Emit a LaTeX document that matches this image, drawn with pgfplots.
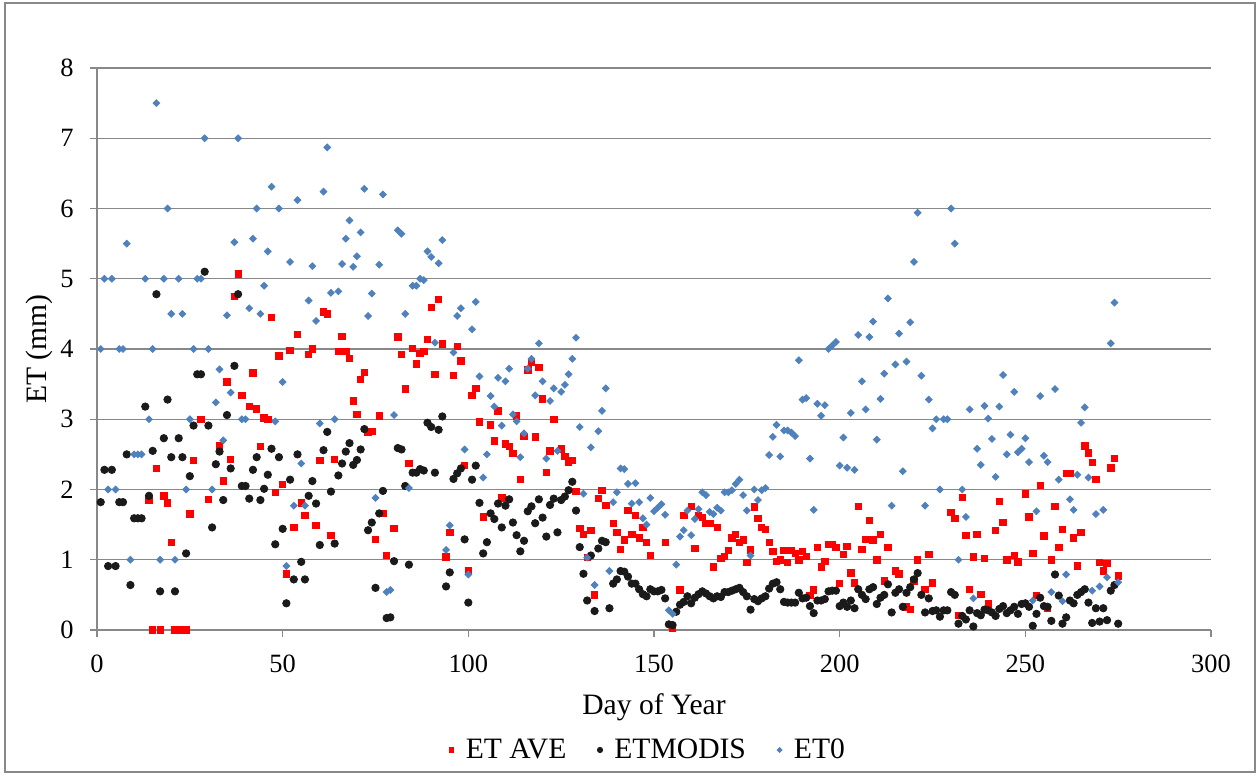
\documentclass[border=0pt]{standalone}
\usepackage{pgfplots}
\pgfplotsset{compat=1.18}
\usepackage{fontspec}
\setmainfont{Liberation Serif}
\definecolor{etblue}{HTML}{4F81BD}
\definecolor{etred}{HTML}{FF0000}
\definecolor{etblack}{HTML}{1A1A1A}
\definecolor{gridgray}{HTML}{888888}
\begin{document}
\begin{tikzpicture}
\useasboundingbox (-48.5pt,-72.5pt) rectangle (580.5pt,315pt);
\draw[gridgray, line width=0.7pt] (-46pt,-71pt) rectangle (579pt,313.5pt);
\begin{axis}[
  at={(0pt,0pt)}, anchor=south west,
  scale only axis, width=557pt, height=281pt,
  xmin=0, xmax=300, ymin=0, ymax=8,
  xtick={0,50,...,300}, ytick={0,1,...,8},
  axis x line=bottom, axis y line=left,
  axis line style={-, gridgray, line width=0.6pt},
  tick align=outside, major tick length=3.5pt,
  tick style={gridgray, line width=0.6pt},
  ymajorgrids, grid style={gridgray, line width=0.6pt},
  /pgf/number format/assume math mode=true,
  ticklabel style={font=\fontsize{13.2}{15}\selectfont},
  yticklabel style={anchor=east, inner sep=0pt, xshift=-8pt},
  xticklabel style={anchor=north, inner sep=0pt, yshift=-9pt},
  xlabel={Day of Year}, ylabel={ET (mm)},
  label style={font=\fontsize{14.8}{17}\selectfont},
  xlabel style={at={(axis description cs:0.5,-0.137)}, anchor=center},
  ylabel style={at={(axis description cs:-0.052,0.5)}, anchor=center, rotate=0},
  legend columns=3,
  legend style={draw=none, at={(axis description cs:0.4946,-0.2135)}, anchor=center,
    font=\fontsize{14.8}{17}\selectfont, column sep=2pt,
    /tikz/every even column/.append style={column sep=12.6pt}},
  legend image code/.code={\draw[#1, /tikz/every mark/.append style={scale=0.72}] plot coordinates {(0pt,0pt)}; \path (-2pt,0pt) (3pt,0pt);},
  clip=false,
]
\addplot[only marks, mark=square*, mark size=1.6pt, color=etred, mark options={draw=etred, fill=etred}] table {
14 1.85
15 0
16 2.3
17 0
18 1.91
19 1.81
20 1.25
21 0
22 0
23 0
24 0
25 1.65
26 2.41
28 3.0
30 1.86
33 2.62
34 2.12
35 3.53
36 2.43
37 4.75
38 5.07
39 3.34
41 3.18
42 3.66
43 3.15
44 2.61
45 3.02
46 3.0
47 4.45
48 1.96
49 3.9
50 2.07
51 0.8
52 3.98
53 1.46
54 4.21
55 1.81
56 1.63
57 3.92
58 4.0
59 1.49
60 2.41
61 4.53
62 4.5
63 1.35
64 2.43
65 3.97
66 4.18
67 3.97
68 3.87
69 3.26
70 3.07
71 3.57
72 3.67
73 2.81
74 2.83
75 1.29
76 3.05
77 1.66
78 1.06
80 1.45
81 4.17
82 3.92
83 3.43
84 2.37
85 4.01
86 3.79
87 3.94
88 3.97
89 4.14
90 4.59
91 3.64
92 4.71
93 4.07
94 1.04
95 1.39
96 3.62
97 4.04
98 3.83
99 2.34
100 0.85
101 3.34
102 3.44
103 2.96
104 1.61
106 2.92
107 2.69
108 3.12
109 1.88
110 2.65
111 2.61
112 2.51
113 3.05
114 2.14
115 2.76
116 3.7
117 3.81
118 2.75
119 3.74
120 3.29
121 2.24
122 2.55
123 3.0
125 2.58
126 2.47
127 2.39
128 2.41
129 1.97
130 1.45
131 1.36
132 1.03
133 1.42
134 0.5
135 1.87
136 1.99
137 1.77
139 1.52
140 1.39
141 1.15
142 1.28
143 1.7
144 1.36
145 1.63
146 1.31
147 1.46
148 1.25
149 1.06
153 1.25
155 0.02
157 0.57
158 1.63
160 1.76
161 1.16
162 1.63
163 1.6
164 1.52
165 1.52
166 0.9
167 1.46
168 1.02
169 1.05
170 1.13
171 1.31
172 1.36
173 1.25
174 1.28
175 0.96
176 1.14
177 1.75
178 1.59
179 1.46
180 1.43
181 1.25
182 1.12
183 0.98
184 1.0
185 1.13
186 0.96
187 1.13
188 1.09
189 1.0
190 1.12
191 1.05
192 0.49
193 0.57
194 1.18
195 0.9
196 0.98
197 1.22
198 1.22
199 1.18
200 0.66
201 1.08
202 1.19
203 0.81
204 0.67
205 1.76
206 1.15
207 1.29
208 1.56
209 1.28
210 1.0
211 1.36
212 0.7
213 1.18
215 0.84
216 0.8
218 0.33
219 0.29
220 0.7
221 1.0
223 0.58
224 1.08
225 0.67
230 1.67
231 1.59
232 0.21
233 1.89
234 1.35
235 0.58
236 1.04
237 1.36
238 0.51
239 1.02
240 0.37
242 1.42
243 1.83
244 1.53
245 1.0
247 1.06
248 0.97
250 1.94
251 1.61
252 1.09
253 0.49
254 2.06
255 1.34
256 0.31
257 1.0
258 1.76
259 1.18
260 1.43
261 2.23
262 2.23
263 1.31
264 0.91
265 1.39
266 2.62
267 2.52
268 2.39
269 2.14
270 0.96
271 0.84
272 0.95
273 2.31
274 2.44
275 0.77
};
\addlegendentry{ET AVE}
\addplot[only marks, mark=*, mark size=1.85pt, color=etblack, mark options={draw=etblack, fill=etblack}] table {
1 1.82
2 2.28
3 0.91
4 2.28
5 0.91
6 1.82
7 1.82
8 2.5
9 0.64
10 1.59
11 1.59
12 1.59
13 3.18
14 1.91
15 2.55
16 4.78
17 0.55
18 2.73
19 3.28
20 2.46
21 0.55
22 2.73
23 2.46
24 1.09
25 2.19
26 2.91
27 3.64
28 3.64
29 5.1
30 2.91
31 1.46
32 2.36
33 2.54
34 1.85
35 3.06
36 2.3
37 3.76
38 4.78
39 2.05
40 2.05
41 1.87
42 2.28
43 2.46
44 1.85
45 2.01
46 2.21
47 2.58
48 1.22
49 2.46
50 1.44
51 0.38
52 2.14
53 0.72
54 2.5
55 0.97
56 0.72
57 1.91
58 2.12
59 1.8
60 1.21
61 2.56
62 2.82
63 1.97
64 1.23
65 2.2
66 2.37
67 2.54
68 2.66
69 2.35
70 2.42
71 2.57
72 2.86
73 1.42
74 1.53
75 0.6
76 1.66
77 1.98
78 0.17
79 0.18
80 0.98
81 2.59
82 2.57
83 2.05
84 0.93
85 2.24
86 2.24
87 2.29
88 2.27
89 2.95
90 2.89
91 2.24
92 2.85
93 3.04
94 0.62
95 0.82
96 2.15
97 2.23
98 2.3
99 1.29
100 0.39
101 2.14
102 2.34
103 1.81
104 1.09
105 1.25
106 1.66
107 1.58
108 1.8
109 1.46
110 1.77
111 1.86
112 1.53
113 1.35
114 1.12
115 1.27
116 1.69
117 1.76
118 1.52
119 1.86
120 1.6
121 1.33
122 1.78
123 1.87
124 1.39
125 1.85
126 1.9
127 1.99
128 2.11
129 1.7
130 1.18
131 0.8
132 0.42
133 1.06
134 0.27
135 1.16
136 1.27
137 1.25
138 0.31
139 0.66
140 0.72
141 0.84
142 0.83
143 0.76
144 0.66
145 0.66
146 0.58
147 0.51
148 0.48
149 0.58
150 0.55
151 0.55
152 0.57
153 0.45
154 0.08
155 0.07
156 0.26
157 0.36
158 0.4
159 0.48
160 0.38
161 0.46
162 0.51
163 0.55
164 0.52
165 0.48
166 0.45
167 0.48
168 0.47
169 0.54
170 0.54
171 0.56
172 0.58
173 0.6
174 0.54
175 0.48
176 0.29
177 0.44
178 0.41
179 0.45
180 0.48
181 0.59
182 0.66
183 0.68
184 0.58
185 0.4
186 0.39
187 0.39
188 0.39
189 0.53
190 0.45
191 0.46
192 0.34
193 0.24
194 0.42
195 0.42
196 0.44
197 0.55
198 0.56
199 0.56
200 0.34
201 0.39
202 0.33
203 0.42
204 0.31
205 0.58
206 0.5
207 0.44
208 0.58
209 0.61
210 0.37
211 0.46
212 0.5
213 0.65
214 0.25
215 0.53
216 0.58
217 0.33
218 0.53
219 0.61
220 0.72
221 0.81
222 0.5
223 0.25
224 0.45
225 0.27
226 0.28
227 0.19
228 0.28
229 0.28
230 0.54
231 0.5
232 0.09
233 0.2
234 0.15
235 0.28
236 0.05
237 0.24
238 0.21
239 0.29
240 0.28
241 0.25
242 0.2
243 0.3
244 0.34
245 0.24
246 0.28
247 0.33
248 0.23
249 0.37
250 0.38
251 0.33
252 0.06
253 0.23
254 0.46
255 0.34
256 0.33
257 0.13
258 0.79
259 0.49
260 0.09
261 0.18
262 0.42
263 0.38
264 0.5
265 0.54
266 0.58
267 0.39
268 0.1
269 0.31
270 0.12
271 0.31
272 0.14
273 0.56
274 0.64
275 0.09
};
\addlegendentry{ETMODIS}
\addplot[only marks, mark=square*, mark size=1.2pt, color=etblue, mark options={rotate=45, draw=etblue, fill=etblue}] table {
1 4.0
2 5.0
3 2.0
4 5.0
5 2.0
6 4.0
7 4.0
8 5.5
9 1.0
10 2.5
11 2.5
12 2.5
13 5.0
14 3.0
15 4.0
16 7.5
17 1.0
18 5.0
19 6.0
20 4.5
21 1.0
22 5.0
23 4.5
24 2.0
25 3.0
26 4.0
27 5.0
28 5.0
29 7.0
30 4.0
31 2.0
32 3.24
33 3.71
34 2.7
35 4.48
36 3.38
37 5.52
38 7.0
39 3.0
40 3.0
41 4.58
42 5.57
43 6.0
44 4.5
45 4.9
46 5.39
47 6.31
48 2.97
49 6.0
50 3.53
51 0.91
52 5.24
53 1.77
54 6.12
55 2.37
56 1.77
57 4.69
58 5.18
59 4.4
60 2.94
61 6.24
62 6.87
63 4.8
64 3.0
65 4.82
66 5.21
67 5.57
68 5.83
69 5.17
70 5.32
71 5.66
72 6.28
73 4.47
74 4.79
75 1.88
76 5.2
77 6.2
78 0.54
79 0.57
80 3.06
81 5.69
82 5.64
83 4.5
84 2.02
85 4.9
86 4.9
87 5.0
88 4.98
89 5.39
90 5.31
91 4.09
92 5.22
93 5.55
94 1.14
95 1.49
96 3.95
97 4.47
98 4.58
99 2.57
100 0.79
101 4.28
102 4.67
103 3.61
104 2.17
105 2.5
106 3.33
107 3.18
108 3.59
109 2.91
110 3.54
111 3.72
112 3.07
113 2.97
114 2.46
115 2.8
116 3.72
117 3.86
118 3.34
119 4.08
120 3.54
121 2.44
122 3.26
123 3.44
124 2.55
125 3.39
126 3.49
127 3.64
128 3.86
129 4.16
130 2.89
131 1.94
132 1.03
133 2.6
134 0.64
135 2.83
136 3.12
137 3.44
138 0.84
139 1.82
140 1.96
141 2.3
142 2.29
143 2.08
144 1.8
145 2.09
146 1.82
147 1.59
148 1.5
149 1.88
150 1.69
151 1.74
152 1.79
153 1.64
154 0.28
155 0.23
156 0.93
157 1.33
158 1.42
159 1.7
160 1.35
161 1.58
162 1.72
163 1.96
164 1.92
165 1.68
166 1.65
167 1.74
168 1.7
169 1.96
170 1.96
171 1.99
172 2.08
173 2.14
174 1.92
175 1.7
176 1.06
177 2.0
178 1.85
179 1.99
180 2.02
181 2.49
182 2.75
183 2.92
184 2.47
185 2.84
186 2.84
187 2.81
188 2.76
189 3.84
190 3.28
191 3.3
192 2.44
193 1.71
194 3.22
195 3.05
196 3.2
197 4.0
198 4.05
199 4.1
200 2.34
201 2.74
202 2.31
203 3.09
204 2.28
205 4.2
206 3.54
207 3.14
208 4.17
209 4.39
210 2.71
211 3.29
212 3.65
213 4.72
214 1.77
215 3.78
216 4.22
217 2.26
218 3.82
219 4.38
220 5.24
221 5.94
222 3.62
223 1.77
224 3.28
225 2.87
226 3.0
227 2.0
228 3.0
229 3.0
230 6.0
231 5.5
232 1.0
233 2.0
234 1.61
235 3.14
236 0.45
237 2.58
238 2.35
239 3.19
240 3.01
241 2.72
242 2.18
243 3.18
244 3.63
245 2.5
246 2.78
247 3.39
248 2.53
249 2.58
250 2.73
251 2.39
252 0.42
253 1.69
254 3.33
255 2.48
256 2.39
257 0.54
258 3.43
259 2.14
260 0.41
261 0.79
262 1.86
263 1.71
264 2.21
265 2.95
266 3.17
267 2.17
268 0.56
269 1.65
270 0.62
271 1.71
272 0.75
273 4.08
274 4.66
275 0.68
};
\addlegendentry{ET0}
\end{axis}
\end{tikzpicture}
\end{document}
